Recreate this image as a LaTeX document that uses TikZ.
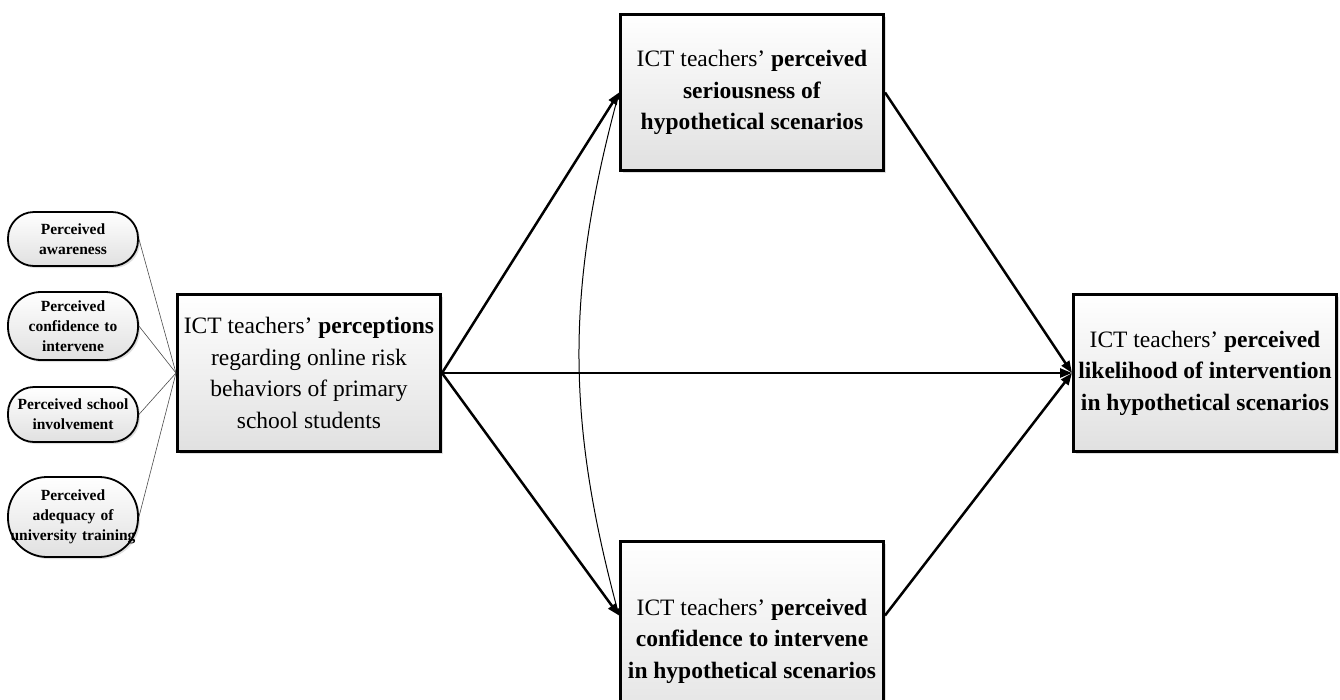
\documentclass[tikz,border=0pt]{standalone}
\usepackage{fontspec}
\setmainfont{Liberation Serif}
\usetikzlibrary{arrows.meta,shadows}

\begin{document}
\begin{tikzpicture}[x=1pt,y=-1pt,
    construct/.style={draw,line width=3pt,top color=white,bottom color=black!12,
        drop shadow={shadow xshift=2.5pt,shadow yshift=-2.5pt,opacity=.25},
        minimum width=263pt,minimum height=157pt,align=center,
        font=\fontsize{23.5}{31.5}\selectfont},
    facet/.style={draw,line width=1.8pt,rounded corners=#1,top color=white,bottom color=black!12,
        drop shadow={shadow xshift=2pt,shadow yshift=-2pt,opacity=.25},
        minimum width=130pt,text width=130pt,inner xsep=0pt,align=center,
        font=\bfseries\fontsize{15.5}{20}\selectfont},
    effect/.style={line width=2.5pt,-{Triangle[length=12pt,width=9pt]}},
    covary/.style={line width=1pt,{Triangle[length=7pt,width=5pt]}-{Triangle[length=7pt,width=5pt]}},
    facetline/.style={gray!60!black,line width=.6pt}]
\useasboundingbox (0,0) rectangle (1340,699);

% facets of the perceptions
\node[facet=26,minimum height=54pt] (aware) at (73,239) {Perceived\\awareness};
\node[facet=33,minimum height=68pt] (confid) at (73,326) {Perceived\\confidence to\\intervene};
\node[facet=26,minimum height=55pt] (school) at (73,414.5) {Perceived school\\involvement};
\node[facet=39,minimum height=80pt] (train) at (73,517) {Perceived\\adequacy of\\\makebox[0pt]{university training}};

% constructs
\node[construct] (percep) at (309,373) {ICT teachers’ \textbf{perceptions}\\regarding online risk\\behaviors of primary\\school students};
\node[construct,minimum height=156pt] (serious) at (752,92.5) {ICT teachers’ \textbf{perceived}\\\textbf{seriousness of}\\\textbf{hypothetical scenarios}};
\node[construct,minimum height=200pt] (confint) at (752,641) {ICT teachers’ \textbf{perceived}\\\textbf{confidence to intervene}\\\textbf{in hypothetical scenarios}};
\node[construct] (likely) at (1205,373) {ICT teachers’ \textbf{perceived}\\\textbf{likelihood of intervention}\\\textbf{in hypothetical scenarios}};

\coordinate (confin) at ([yshift=-76pt]confint.north west);
\coordinate (confout) at ([yshift=-76pt]confint.north east);

\foreach \f in {aware,confid,school,train}
    \draw[facetline] (\f.east) -- (percep.west);

\draw[effect] (percep.east) -- (serious.west);
\draw[effect] (percep.east) -- (confin);
\draw[effect] (percep.east) -- (likely.west);
\draw[effect] (serious.east) -- (likely.west);
\draw[effect] (confout) -- (likely.west);
\draw[covary] (serious.west) to[bend right=15] (confin);
\end{tikzpicture}
\end{document}
